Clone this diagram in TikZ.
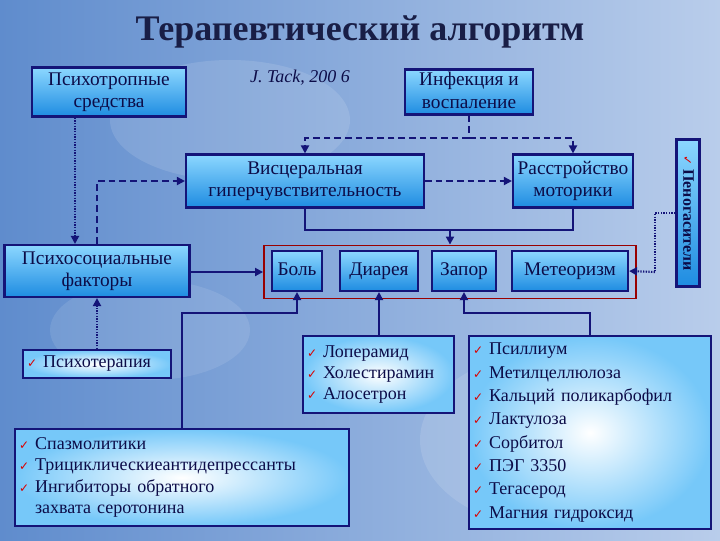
\documentclass[tikz,border=0pt]{standalone}
\usepackage{fontspec}
\setmainfont{Liberation Serif}
\newfontfamily\dejavu{DejaVu Sans}
\usetikzlibrary{arrows.meta}
\definecolor{navy}{RGB}{20,20,120}
\definecolor{ttl}{RGB}{25,30,70}
\definecolor{bgA}{RGB}{95,140,205}
\definecolor{bgB}{RGB}{185,205,235}
\definecolor{boxA}{RGB}{140,215,255}
\definecolor{boxB}{RGB}{30,140,225}
\newcommand\chk{\textcolor{red!85!black}{\dejavu\small ✓}\ }
\tikzset{
  box/.style={draw=navy,line width=1.6pt,top color=boxA,bottom color=boxB,inner sep=1pt,align=center,font=\fontsize{14.5}{17}\selectfont,text=navy!60!black,text height=10pt,text depth=3pt},
  lst/.style={draw=navy,line width=1.6pt,inner color=white,outer color=boxA!80!boxB,inner sep=3pt,align=left,anchor=north west,font=\fontsize{13.5}{16}\selectfont,text=navy!60!black},
  con/.style={draw=navy,line width=1.4pt},
  dsh/.style={con,dash pattern=on 5pt off 3pt},
  dot/.style={con,line width=1.6pt,dash pattern=on 1pt off 1pt},
  arr/.style={-{Triangle[length=6pt,width=6pt]}}
}
\begin{document}
\begin{tikzpicture}[x=0.75pt,y=-0.75pt]
\useasboundingbox (0,0) rectangle (720,540);
\shade[left color=bgA,right color=bgB] (0,0) rectangle (720,540);
\fill[white,opacity=0.12] (230,120) ellipse (120 and 60);
\fill[white,opacity=0.12] (560,440) ellipse (140 and 90);
\fill[white,opacity=0.1] (150,330) ellipse (100 and 50);
\node[font=\bfseries\fontsize{27}{30}\selectfont,text=ttl] (title) at (360,32) {Терапевтический алгоритм};
\node[box,minimum width=154*0.75pt,minimum height=49*0.75pt,text height=] (psy) at (109,92) {Психотропные\\средства};
\node[font=\itshape\fontsize{13.5}{14}\selectfont,text=navy!60!black] (tack) at (300,78) {J. Tack, 200 6};
\node[box,minimum width=128*0.75pt,minimum height=45*0.75pt,text height=] (inf) at (469,92) {Инфекция и\\воспаление};
\node[box,minimum width=238*0.75pt,minimum height=53*0.75pt,text height=] (vis) at (305,181) {Висцеральная\\гиперчувствительность};
\node[box,minimum width=120*0.75pt,minimum height=53*0.75pt,text height=] (mot) at (573,181) {Расстройство\\моторики};
\node[box,minimum width=185*0.75pt,minimum height=52*0.75pt,text height=] (soc) at (97,271) {Психосоциальные\\факторы};
\node[draw=red!60!black,line width=1.4pt,minimum width=372*0.75pt,minimum height=53*0.75pt] (frame) at (450,272) {};
\node[box,minimum width=50*0.75pt,minimum height=40*0.75pt] (pain) at (297,271) {Боль};
\node[box,minimum width=78*0.75pt,minimum height=40*0.75pt] (dia) at (379,271) {Диарея};
\node[box,minimum width=64*0.75pt,minimum height=40*0.75pt] (con) at (464,271) {Запор};
\node[box,minimum width=116*0.75pt,minimum height=40*0.75pt] (met) at (570,271) {Метеоризм};
\node[box,rotate=-90,minimum width=147*0.75pt,minimum height=23*0.75pt,font=\bfseries\fontsize{12}{13}\selectfont] (foam) at (688,213) {\chk Пеногасители};
\node[lst,text width=140*0.75pt,minimum height=28*0.75pt,anchor=center] (pt) at (97,364) {\chk Психотерапия};
\node[lst,text width=326*0.75pt,minimum height=97*0.75pt] (spa) at (14,428) {\chk Спазмолитики\\\chk Трициклическиеантидепрессанты\\\chk Ингибиторы обратного\\\phantom{\chk}захвата серотонина};
\node[lst,text width=143*0.75pt,minimum height=77*0.75pt] (lop) at (302,335) {\chk Лоперамид\\\chk Холестирамин\\\chk Алосетрон};
\node[lst,text width=234*0.75pt,minimum height=193*0.75pt,font=\fontsize{13.5}{17.5}\selectfont] (psl) at (468,335) {\chk Псиллиум\\\chk Метилцеллюлоза\\\chk Кальций поликарбофил\\\chk Лактулоза\\\chk Сорбитол\\\chk ПЭГ 3350\\\chk Тегасерод\\\chk Магния гидроксид};
% connectors
\coordinate (j1) at (469,138);
\draw[dsh] (inf.south) -- (j1);
\draw[dsh,arr] (j1) -| (vis.north);
\draw[dsh,arr] (j1) -| (mot.north);
\draw[dsh,arr] (vis.east) -- (mot.west);
\draw[dot,arr] (psy.south -| 75,0) -- (soc.north -| 75,0);
\draw[dsh,arr] (soc.north) |- (vis.west);
\coordinate (j2) at (450,230);
\draw[con] (vis.south) |- (j2) -| (mot.south);
\draw[con,arr] (j2) -- (frame.north);
\draw[con,arr] (soc.east |- frame.west) -- (frame.west);
\coordinate (j3) at (655,272);
\draw[dot] (foam.south) -| (j3);
\draw[dot,arr] (j3) -- (met.east);
\draw[dot,arr] (pt.north) -- (soc.south);
\coordinate (j4) at (182,313);
\draw[con,arr] (spa.north -| j4) -- (j4) -| (pain.south);
\draw[con,arr] (lop.north -| dia) -- (dia.south);
\coordinate (j5) at (590,313);
\draw[con,arr] (psl.north -| j5) -- (j5) -| (con.south);
\end{tikzpicture}
\end{document}
